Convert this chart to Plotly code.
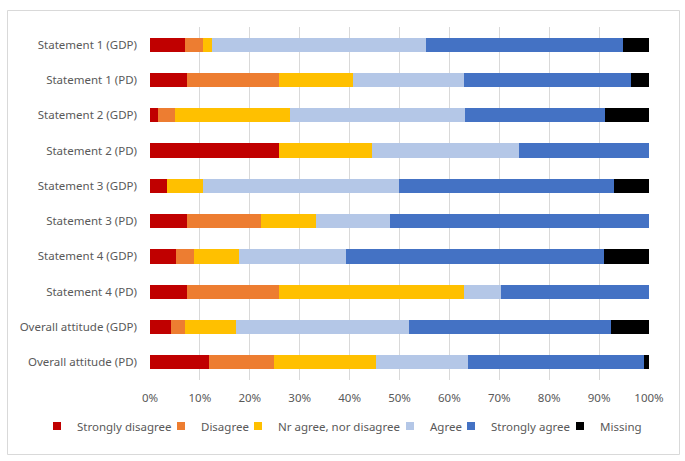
import plotly.graph_objects as go

categories = ["Statement 1 (GDP)", "Statement 1 (PD)", "Statement 2 (GDP)", "Statement 2 (PD)",
              "Statement 3 (GDP)", "Statement 3 (PD)", "Statement 4 (GDP)", "Statement 4 (PD)",
              "Overall attitude (GDP)", "Overall attitude (PD)"]

strongly_disagree = [7.0, 7.4, 1.6, 25.9, 3.4, 7.4, 5.2, 7.4, 4.3, 11.9]
disagree          = [3.6, 18.5, 3.5, 0.0, 0.0, 14.8, 3.6, 18.5, 2.7, 12.9]
neither           = [1.8, 14.8, 22.9, 18.5, 7.2, 11.1, 9.0, 37.0, 10.2, 20.4]
agree             = [42.9, 22.2, 35.1, 29.6, 39.3, 14.8, 21.4, 7.4, 34.7, 18.6]
strongly_agree    = [39.4, 33.4, 28.1, 26.1, 43.0, 51.9, 51.8, 29.7, 40.5, 35.2]
missing           = [5.3, 3.7, 8.8, 0.0, 7.1, 0.0, 9.0, 0.0, 7.6, 1.0]

series_names = ["Strongly disagree", "Disagree", "Nr agree, nor disagree", "Agree", "Strongly agree", "Missing"]
series_values = [strongly_disagree, disagree, neither, agree, strongly_agree, missing]
colors = ["#C00000", "#ED7D31", "#FFC000", "#B4C7E7", "#4472C4", "#000000"]

tick_vals = [0, 10, 20, 30, 40, 50, 60, 70, 80, 90, 100]
tick_text = [f"{v}%" for v in tick_vals]

# layout geometry (pixels)
W, H = 685, 461
ML, MR, MT, MB = 150, 36, 27, 81
PW, PH = W - ML - MR, H - MT - MB
legend_text_x = [73, 197, 274, 426, 487, 596]   # where each legend label starts
legend_shift = 4
legend_y_px = 426

fig = go.Figure()
for i, (name, vals, col) in enumerate(zip(series_names, series_values, colors)):
    lg = "legend" if i == 0 else f"legend{i + 1}"
    fig.add_trace(go.Bar(y=categories, x=vals, name=name, orientation="h",
                         marker=dict(color=col, line=dict(width=0)), showlegend=False))
    fig.add_trace(go.Scatter(x=[None], y=[None], mode="markers", name=name, legend=lg,
                             marker=dict(symbol="square", size=8, color=col), showlegend=True,
                             hoverinfo="skip"))

font_family = "Noto Sans, Open Sans, sans-serif"
legend_common = dict(orientation="h", xanchor="left", yanchor="middle",
                     bgcolor="rgba(0,0,0,0)", itemwidth=30,
                     font=dict(size=11.5, color="#595959", family=font_family))
legend_layouts = {}
for i, tx in enumerate(legend_text_x):
    key = "legend" if i == 0 else f"legend{i + 1}"
    legend_layouts[key] = dict(legend_common,
                               x=(tx + legend_shift - 40 - ML) / PW,
                               y=-(legend_y_px - (MT + PH)) / PH)

fig.update_layout(
    barmode="stack",
    bargap=0.6,
    width=W, height=H,
    margin=dict(l=ML, r=MR, t=MT, b=MB, autoexpand=False),
    paper_bgcolor="white", plot_bgcolor="white",
    font=dict(family=font_family, size=11.5, color="#595959"),
    xaxis=dict(range=[0, 100], tickvals=tick_vals, ticktext=tick_text,
               showgrid=True, gridcolor="#D9D9D9", gridwidth=1, zeroline=False,
               showline=False, ticks="", ticklen=0, ticklabelstandoff=9,
               tickfont=dict(size=11.5, color="#595959")),
    yaxis=dict(autorange="reversed", showgrid=False, ticks="", showline=False,
               ticklabelstandoff=12, tickfont=dict(size=11.5, color="#595959")),
    showlegend=True,
    **legend_layouts,
)
fig.add_shape(type="rect", xref="paper", yref="paper",
              x0=(7.5 - ML) / PW, x1=(679.5 - ML) / PW,
              y0=-(454.5 - (MT + PH)) / PH, y1=1 + (MT - 10.5) / PH,
              line=dict(color="#D9D9D9", width=1), layer="below")

fig.write_html("out.html", config={"displayModeBar": False},
               post_script="document.body.style.margin='0';")
